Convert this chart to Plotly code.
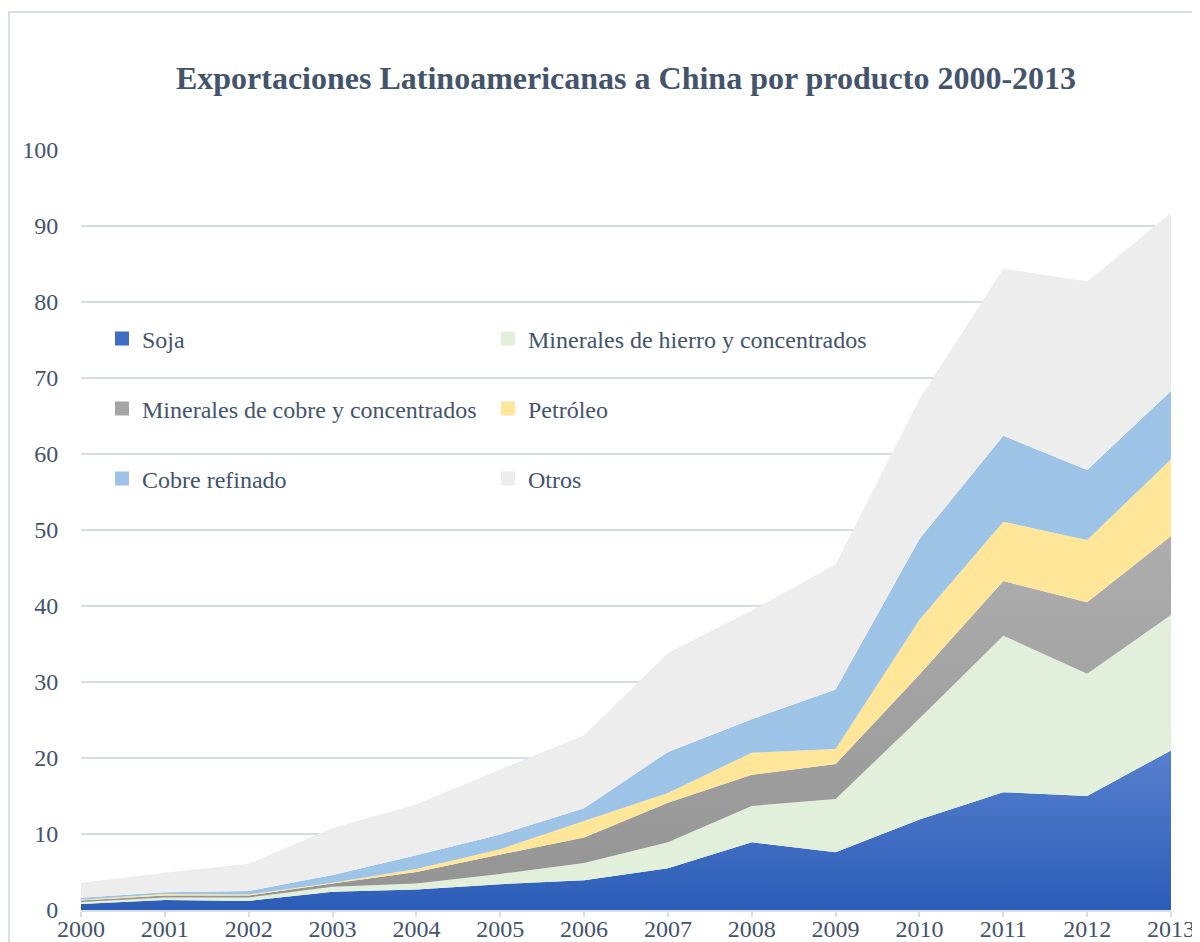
import plotly.graph_objects as go
import numpy as np

years = list(range(2000, 2014))

soja = [0.8, 1.3, 1.2, 2.4, 2.7, 3.4, 3.9, 5.5, 8.9, 7.6, 11.9, 15.5, 15.0, 21.0]
hierro = [0.25, 0.35, 0.45, 0.65, 0.8, 1.35, 2.3, 3.4, 4.8, 7.0, 13.3, 20.6, 16.1, 17.8]
cobre_min = [0.2, 0.25, 0.25, 0.45, 1.5, 2.55, 3.35, 5.2, 4.1, 4.6, 5.8, 7.2, 9.4, 10.4]
petroleo = [0.1, 0.2, 0.15, 0.1, 0.4, 0.7, 2.15, 1.3, 2.9, 2.0, 7.2, 7.8, 8.2, 10.1]
cobre_ref = [0.25, 0.25, 0.45, 1.0, 1.8, 1.95, 1.7, 5.4, 4.4, 7.8, 10.6, 11.3, 9.2, 9.0]
otros = [2.0, 2.55, 3.6, 6.2, 6.7, 8.55, 9.6, 13.0, 14.3, 16.5, 18.4, 22.0, 24.8, 23.4]

names = ["Soja", "Minerales de hierro y concentrados", "Minerales de cobre y concentrados",
         "Petróleo", "Cobre refinado", "Otros"]
series = [soja, hierro, cobre_min, petroleo, cobre_ref, otros]
colors = ["#3F6DC5", "#E2EFDA", "#A5A5A5", "#FFE699", "#9DC3E6", "#EDEDED"]

TEXT = "#44546A"
FONT = "Liberation Serif, Times New Roman, serif"

fig = go.Figure()

cum = np.cumsum(np.array(series), axis=0)

for i, (nm, vals, col) in enumerate(zip(names, series, colors)):
    kw = dict(fillcolor=col)
    if i == 0:
        kw = dict(fillgradient=dict(type="vertical", start=0, stop=float(cum[0].max()),
                                    colorscale=[[0, "#2C5DB7"], [1, "#5680CE"]]))
    elif i == 2:
        kw = dict(fillgradient=dict(type="vertical", start=0, stop=float(cum[2].max()),
                                    colorscale=[[0, "#939393"], [1, "#AEAEAE"]]))
    fig.add_trace(go.Scatter(
        x=years, y=vals, name=nm, stackgroup="one", mode="none",
        showlegend=False, hoverinfo="x+y+name", **kw))

# legend entries (two per row, three rows)
legend_ids = ["legend", "legend", "legend2", "legend2", "legend3", "legend3"]
for nm, col, lg in zip(names, colors, legend_ids):
    fig.add_trace(go.Scatter(
        x=[None], y=[None], mode="markers", name=nm, legend=lg,
        marker=dict(symbol="square", size=14, color=col, line=dict(width=0)),
        showlegend=True))

# page body has an 8px margin; work in screenshot pixels and convert
OFF = 8
W, H = 1200 - OFF, 942 - OFF
L, R, T, B = 81 - OFF, 29, 150 - OFF, 32
pw, ph = W - L - R, H - T - B

def px_x(p):
    return (p - OFF - L) / pw

def px_y(p):
    return (H - B - (p - OFF)) / ph

leg_common = dict(orientation="h", xanchor="left", yanchor="middle",
                  entrywidth=341, entrywidthmode="pixels", traceorder="normal",
                  font=dict(family=FONT, size=24, color=TEXT),
                  bgcolor="rgba(0,0,0,0)", borderwidth=0)

fig.update_layout(
    width=W, height=H,
    margin=dict(l=L, r=R, t=T, b=B, autoexpand=False),
    paper_bgcolor="white", plot_bgcolor="white",
    title=dict(text="<b>Exportaciones Latinoamericanas a China por producto 2000-2013</b>",
               x=0.5, xref="paper", xanchor="center",
               y=1 - (78 - OFF) / H, yref="container", yanchor="middle",
               font=dict(family=FONT, size=32, color=TEXT)),
    legend=dict(x=px_x(102), y=px_y(339), **leg_common),
    legend2=dict(x=px_x(102), y=px_y(409), **leg_common),
    legend3=dict(x=px_x(102), y=px_y(479), **leg_common),
    xaxis=dict(range=[2000, 2013], tickmode="array", tickvals=years,
               ticktext=[str(y) for y in years], automargin=False,
               showgrid=False, zeroline=False,
               showline=True, linecolor="#D9DEE6", linewidth=2,
               ticks="outside", ticklen=5, tickcolor="#D9DEE6", tickwidth=1.5,
               ticklabelstandoff=-9,
               tickfont=dict(family=FONT, size=24, color=TEXT)),
    yaxis=dict(range=[0, 100], tickvals=list(range(0, 101, 10)), automargin=False,
               showgrid=True, gridcolor="#D6DCE4", gridwidth=1.5,
               zeroline=False, showline=False,
               ticks="outside", ticklen=17, tickcolor="rgba(0,0,0,0)",
               tickfont=dict(family=FONT, size=24, color=TEXT)),
    shapes=[dict(type="rect", xref="paper", yref="paper",
                 x0=px_x(9), x1=px_x(1215), y0=px_y(960), y1=px_y(12),
                 line=dict(color="#DADFE6", width=2), fillcolor="rgba(0,0,0,0)",
                 layer="below")],
    hovermode="x unified",
)

fig.write_html("out.html")
